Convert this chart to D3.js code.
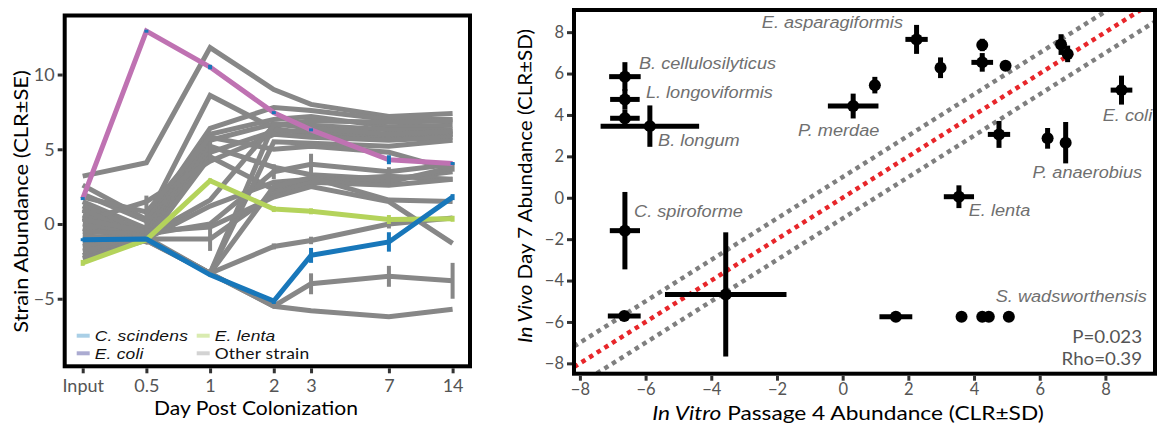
<!DOCTYPE html>
<html><head><meta charset="utf-8">
<script src="https://cdn.jsdelivr.net/npm/d3@7"></script>
<style>body{margin:0;background:#fff}svg{display:block}</style>
</head><body>
<svg id="chart" width="1158" height="425"></svg>
<script>
// ---------- LEFT PANEL DATA ----------
const days = [0.25, 0.5, 1, 2, 3, 7, 14];
const dayLabels = ["Input", "0.5", "1", "2", "3", "7", "14"];
const leftYTicks = [-5, 0, 5, 10];

const cScindens = [-1.05, -1.0, -3.4, -5.15, -2.1, -1.2, 1.8];
const cScindensSE = [0.1, 0.1, 0.1, 0.2, 0.5, 0.65, 0.2];
const eColi = [1.7, 12.9, 10.5, 7.45, 6.3, 4.3, 4.05];
const eColiSE = [0.1, 0.1, 0.15, 0.1, 0.1, 0.3, 0.1];
const eLenta = [-2.6, -1.05, 2.9, 1.0, 0.85, 0.3, 0.35];
const eLentaSE = [0.2, 0.1, 0.15, 0.2, 0.2, 0.3, 0.2];

const otherStrains = [
  [3.2, 4.1, 11.8, 9.0, 8.0, 7.2, 7.4],
  [2.6, 0.3, 8.6, 6.4, 6.0, 5.8, 6.0],
  [2.0, 0.2, 6.4, 7.8, 7.6, 7.0, 7.0],
  [1.5, -0.3, 6.0, 7.0, 7.2, 6.5, 6.6],
  [1.2, -0.6, 5.6, 6.7, 6.6, 6.3, 6.3],
  [0.9, -0.9, 5.2, 3.8, 3.3, 3.0, 3.5],
  [0.6, -1.0, 4.8, 6.2, 6.2, 5.9, 6.0],
  [0.4, -1.2, 4.5, 2.3, 2.9, 3.2, 3.0],
  [0.2, 1.5, 4.2, 6.0, 5.8, 5.6, 5.8],
  [0.0, -0.8, 1.6, 6.6, 6.9, 6.8, 6.9],
  [-0.3, -1.0, 1.2, 2.8, 3.0, 2.8, 3.8],
  [-0.5, -0.7, 0.0, 3.5, 4.0, 3.5, 4.0],
  [-0.8, -1.0, -1.0, 2.0, 2.8, 2.6, 3.0],
  [-1.2, -1.1, -3.3, 5.5, 5.4, 5.2, 5.6],
  [-1.5, -0.9, -3.3, 6.7, 6.4, 6.0, 6.2],
  [-1.8, -1.0, -3.3, 2.5, 3.1, 1.6, 1.5],
  [-2.1, -1.0, -3.3, -1.5, -1.1, 0.0, 0.4],
  [-2.3, -1.1, -3.3, -5.5, -5.8, -6.2, -5.7],
  [1.0, -1.0, -3.3, -5.5, -4.0, -3.5, -3.8],
  [0.3, -0.5, -0.2, 1.8, 2.5, 1.5, -1.3],
  [1.8, 0.8, 5.8, 5.0, 5.2, 4.8, 3.6]
];
// [strain index, day index, SE]
const otherSE = [
  [1, 1, 1.6], [6, 2, 0.7], [12, 2, 0.8], [11, 3, 0.5], [16, 3, 0.2],
  [11, 4, 0.7], [16, 4, 0.25], [18, 4, 0.7], [7, 5, 0.6], [16, 5, 0.3],
  [18, 5, 0.7], [18, 6, 1.2], [10, 6, 0.3]
];
const legendItems = [
  {label: "C. scindens", color: "#a9cfe6", italic: true},
  {label: "E. coli", color: "#ababd1", italic: true},
  {label: "E. lenta", color: "#d9ebb0", italic: true},
  {label: "Other strain", color: "#d3d3d3", italic: false}
];

// ---------- RIGHT PANEL DATA ----------
const rightTicks = [-8, -6, -4, -2, 0, 2, 4, 6, 8];
const inVitro  = [-6.63, -6.63, -6.63, -5.87, -6.63, -6.65, -3.56, 0.32, 0.98, 2.25, 2.98, 4.25, 4.25, 4.96, 6.65, 6.85, 8.49, 4.76, 6.24, 6.79, 3.54, 1.62, 3.62, 4.25, 4.45, 5.06];
const inVivo   = [5.85, 4.75, 3.84, 3.46, -1.59, -5.71, -4.67, 4.43, 5.44, 7.65, 6.28, 7.38, 6.54, 6.38, 7.4, 6.95, 5.2, 3.06, 2.87, 2.66, 0.05, -5.75, -5.75, -5.75, -5.75, -5.75];
const inVitroSD = [0.48, 0.45, 0.45, 1.5, 0.46, 0.5, 1.85, 0.77, 0.1, 0.34, 0.1, 0.1, 0.33, 0.1, 0.1, 0.1, 0.33, 0.34, 0.1, 0.05, 0.46, 0.5, 0.05, 0.05, 0.05, 0.05];
const inVivoSD  = [0.7, 0.5, 0.4, 1.0, 1.87, 0.15, 3.0, 0.6, 0.4, 0.7, 0.5, 0.3, 0.45, 0.2, 0.5, 0.4, 0.7, 0.65, 0.5, 1.0, 0.55, 0.1, 0.05, 0.05, 0.05, 0.05];
const speciesLabels = ["E. asparagiformis", "B. cellulosilyticus", "L. longoviformis", "B. longum", "P. merdae", "C. spiroforme", "E. coli", "P. anaerobius", "E. lenta", "S. wadsworthensis"];
const labelX = [-2.46, -6.2, -5.99, -5.62, -1.36, -6.35, 7.92, 5.78, 3.84, 4.66];
const labelY = [8.22, 6.24, 4.84, 2.52, 3.0, -0.91, 3.73, 0.93, -0.86, -5.04];
const refOffsets = [1, 0, -1];
const statsText = ["P=0.023", "Rho=0.39"];

// ---------- DRAW ----------
const svg = d3.select("#chart");
const AXF = "Lato, 'Open Sans', sans-serif";
const ITF = "'Liberation Sans', Arial, sans-serif";

// fit a text element to a given length along its direction
function fitText(t, x, y, target, rot) {
  t.attr("x", 0).attr("y", 0);
  const len = t.node().getComputedTextLength();
  const k = target / len;
  t.attr("transform", `translate(${x},${y})${rot ? " rotate(-90)" : ""} scale(${k},1)`);
}

// LEFT
const L = {l: 64.7, r: 470, t: 15.5, b: 366.3};
const xL = d3.scaleLog().base(2).domain([0.25, 14]).range([82.7, 452.6]);
const yL = d3.scaleLinear().domain([-9.52, 13.95]).range([L.b, L.t]);
const gL = svg.append("g");
const line = d3.line().x((d, i) => xL(days[i])).y(d => yL(d));

function drawSeries(vals, color, w) {
  gL.append("path").attr("d", line(vals)).attr("fill", "none")
    .attr("stroke", color).attr("stroke-width", w).attr("stroke-linejoin", "miter");
}
function drawErr(v, i, se, color) {
  gL.append("line").attr("x1", xL(days[i])).attr("x2", xL(days[i]))
    .attr("y1", yL(v - se)).attr("y2", yL(v + se))
    .attr("stroke", color).attr("stroke-width", 4);
}
const GRAY = "#878787";
otherStrains.forEach(s => drawSeries(s, GRAY, 5));
otherSE.forEach(([s, i, se]) => drawErr(otherStrains[s][i], i, se, GRAY));
drawSeries(eLenta, "#b4d35b", 5);
eLenta.forEach((v, i) => drawErr(v, i, eLentaSE[i], "#b4d35b"));
drawSeries(cScindens, "#1877ba", 5);
cScindens.forEach((v, i) => drawErr(v, i, cScindensSE[i], "#1877ba"));
drawSeries(eColi, "#bf72b2", 5);
eColi.forEach((v, i) => drawErr(v, i, eColiSE[i], "#1877ba"));

gL.append("rect").attr("x", L.l).attr("y", L.t).attr("width", L.r - L.l).attr("height", L.b - L.t)
  .attr("fill", "none").attr("stroke", "#000").attr("stroke-width", 4);

// left axes
const axL = svg.append("g").attr("transform", `translate(0,${L.b + 2})`)
  .call(d3.axisBottom(xL).tickValues(days).tickFormat((d, i) => dayLabels[i]).tickSize(5).tickPadding(6));
const ayL = svg.append("g").attr("transform", `translate(${L.l - 2},0)`)
  .call(d3.axisLeft(yL).tickValues(leftYTicks).tickSize(5).tickPadding(3));
[axL, ayL].forEach(a => {
  a.select(".domain").remove();
  a.selectAll(".tick line").attr("stroke", "#333").attr("stroke-width", 3);
  a.selectAll(".tick text").attr("fill", "#555").style("font-family", AXF).style("font-size", "18px");
});

// legend
const legPos = [[76.7, 335.7], [76.7, 353.3], [196.7, 335.7], [196.7, 353.3]];
legendItems.forEach((it, k) => {
  const [lx, ly] = legPos[k];
  svg.append("line").attr("x1", lx).attr("x2", lx + 13).attr("y1", ly).attr("y2", ly)
    .attr("stroke", it.color).attr("stroke-width", 4);
  svg.append("text").attr("transform", `translate(${lx + 18},${ly + 5.5}) scale(1.16,1)`).text(it.label)
    .style("font-family", it.italic ? ITF : AXF).style("font-style", it.italic ? "italic" : "normal")
    .style("font-size", "15px").style("letter-spacing", "0.2px").attr("fill", "#111");
});

const lxt = svg.append("text").attr("text-anchor", "middle")
  .text("Day Post Colonization").style("font-family", AXF).style("font-size", "19px").attr("fill", "#000");
fitText(lxt, 256, 415, 204, false);
const lyt = svg.append("text").attr("text-anchor", "middle")
  .text("Strain Abundance (CLR±SE)").style("font-family", AXF).style("font-size", "20px").attr("fill", "#000");
fitText(lyt, 28, 201.5, 263, true);

// RIGHT
const R = {l: 574, r: 1155, t: 10, b: 373.7};
const xR = d3.scaleLinear().domain([-8.18, 9.51]).range([R.l, R.r]);
const yR = d3.scaleLinear().domain([-8.50, 9.07]).range([R.b, R.t]);
const gR = svg.append("g");
gR.append("clipPath").attr("id", "clipR").append("rect")
  .attr("x", R.l).attr("y", R.t).attr("width", R.r - R.l).attr("height", R.b - R.t);
const refG = gR.append("g").attr("clip-path", "url(#clipR)");
refOffsets.forEach(o => {
  refG.append("line").attr("x1", xR(-8.18)).attr("y1", yR(-8.18 + o))
    .attr("x2", xR(9.51)).attr("y2", yR(9.51 + o))
    .attr("stroke", o === 0 ? "#e8262a" : "#7f7f7f").attr("stroke-width", 4.5)
    .attr("stroke-dasharray", "4.5,4.5");
});
const ptsG = gR.append("g");
inVitro.forEach((x, i) => {
  const y = inVivo[i];
  ptsG.append("line").attr("x1", xR(x - inVitroSD[i])).attr("x2", xR(x + inVitroSD[i]))
    .attr("y1", yR(y)).attr("y2", yR(y)).attr("stroke", "#000").attr("stroke-width", 5);
  ptsG.append("line").attr("x1", xR(x)).attr("x2", xR(x))
    .attr("y1", yR(y - inVivoSD[i])).attr("y2", yR(y + inVivoSD[i])).attr("stroke", "#000").attr("stroke-width", 5);
  ptsG.append("circle").attr("cx", xR(x)).attr("cy", yR(y)).attr("r", 6).attr("fill", "#000");
});
speciesLabels.forEach((t, i) => {
  gR.append("text").attr("transform", `translate(${xR(labelX[i])},${yR(labelY[i])}) scale(1.1,1)`).text(t)
    .style("font-family", ITF).style("font-style", "italic").style("font-size", "16.5px")
    .attr("fill", "#6f6f6f");
});
statsText.forEach((t, i) => {
  gR.append("text").attr("transform", `translate(1142,${343 + i * 21.5}) scale(1.1,1)`).attr("text-anchor", "end").text(t)
    .style("font-family", AXF).style("font-size", "17px").attr("fill", "#555");
});
gR.append("rect").attr("x", R.l).attr("y", R.t).attr("width", R.r - R.l).attr("height", R.b - R.t)
  .attr("fill", "none").attr("stroke", "#000").attr("stroke-width", 4);

const axR = svg.append("g").attr("transform", `translate(0,${R.b + 2})`)
  .call(d3.axisBottom(xR).tickValues(rightTicks).tickSize(5).tickPadding(3));
const ayR = svg.append("g").attr("transform", `translate(${R.l - 2},0)`)
  .call(d3.axisLeft(yR).tickValues(rightTicks).tickSize(5).tickPadding(3));
[axR, ayR].forEach(a => {
  a.select(".domain").remove();
  a.selectAll(".tick line").attr("stroke", "#333").attr("stroke-width", 3);
  a.selectAll(".tick text").attr("fill", "#555").style("font-family", AXF).style("font-size", "16.5px");
});

const xt = svg.append("text").attr("text-anchor", "middle")
  .style("font-family", AXF).style("font-size", "19.5px").attr("fill", "#000");
xt.append("tspan").style("font-style", "italic").text("In Vitro");
xt.append("tspan").text(" Passage 4 Abundance (CLR±SD)");
fitText(xt, 848, 420, 392, false);
const yt = svg.append("text").attr("text-anchor", "middle")
  .style("font-family", AXF).style("font-size", "20px").attr("fill", "#000");
yt.append("tspan").style("font-style", "italic").text("In Vivo");
yt.append("tspan").text(" Day 7 Abundance (CLR±SD)");
fitText(yt, 531.5, 186, 314, true);
</script>
</body></html>
